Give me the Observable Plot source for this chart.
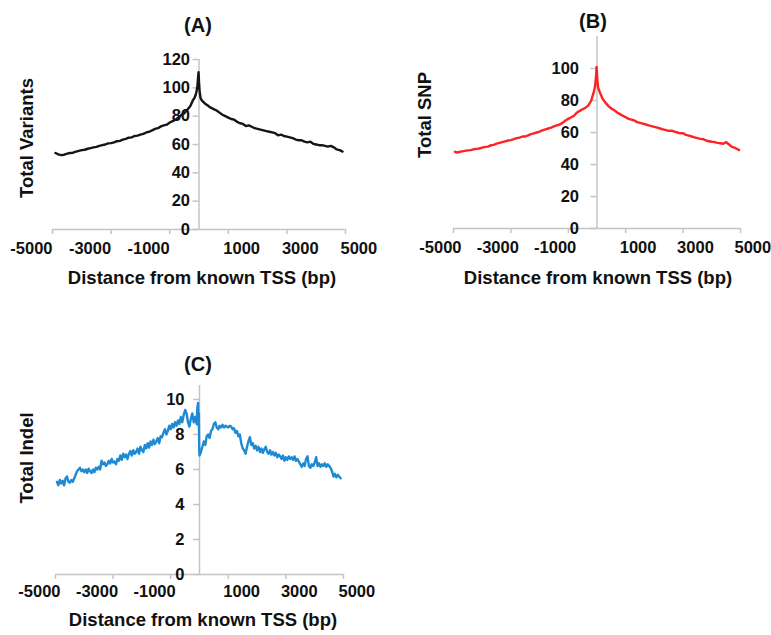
<!DOCTYPE html>
<html>
<head>
<meta charset="utf-8">
<script src="https://cdn.jsdelivr.net/npm/d3@7"></script>
<script src="https://cdn.jsdelivr.net/npm/@observablehq/plot@0.6"></script>
<style>
  html, body { margin: 0; padding: 0; background: #fff; }
  #root { position: relative; width: 771px; height: 635px; overflow: hidden; font-family: "Liberation Sans", Arial, sans-serif; }
  .panel { position: absolute; }
  .lbl { position: absolute; font-weight: bold; color: #111; white-space: nowrap; transform: translate(-50%, -50%); }
  .rot { transform: translate(-50%, -50%) rotate(-90deg); }
</style>
</head>
<body>
<div id="root"></div>
<script>
// ---------- data ----------
const xTicks = [-5000, -3000, -1000, 1000, 3000, 5000];

const posA = [-4900,-4800,-4700,-4600,-4500,-4400,-4300,-4200,-4100,-4000,-3900,-3800,-3700,-3600,-3500,-3400,-3300,-3200,-3100,-3000,-2900,-2800,-2700,-2600,-2500,-2400,-2300,-2200,-2100,-2000,-1900,-1800,-1700,-1600,-1500,-1400,-1300,-1200,-1100,-1000,-900,-800,-700,-600,-500,-400,-300,-200,-150,-100,-60,-40,-30,-15,0,20,50,100,200,300,400,500,600,700,800,900,1000,1100,1200,1300,1400,1500,1600,1700,1800,1900,2000,2100,2200,2300,2400,2500,2600,2700,2800,2900,3000,3100,3200,3300,3400,3500,3600,3700,3800,3900,4000,4100,4200,4300,4400,4500,4600,4700,4800,4900];
const variantsA = [54,53,52.5,52.8,53.5,54,54.2,55,55.5,56,56.3,57,57.5,58,58.3,59,59.5,60,60.8,61,61.5,62.3,62.6,63.5,64,64.8,65,66,66.3,67,67.5,68.5,69,70,71,71.5,72.8,73.5,74,75.5,76.5,77.5,79,81,82,84.5,87,91.5,93,96,100,105,108,111,104,98,93,91,89,87.5,86,85,84,82.5,81,80,79,78,77.5,76,75,74.5,73,73.5,72.5,71.5,71,70.5,70,69.5,69,68.5,68,66.5,67,66,65.5,65,64.5,63.5,63,63,62,61.5,62,60.5,60,59.5,59.5,59,58.5,59,58,56.5,56,55];
const yTicksA = [0, 20, 40, 60, 80, 100, 120];

const posB = [-4950,-4900,-4800,-4700,-4600,-4500,-4400,-4300,-4200,-4100,-4000,-3900,-3800,-3700,-3600,-3500,-3400,-3300,-3200,-3100,-3000,-2900,-2800,-2700,-2600,-2500,-2400,-2300,-2200,-2100,-2000,-1900,-1800,-1700,-1600,-1500,-1400,-1300,-1200,-1100,-1000,-900,-800,-700,-600,-500,-400,-300,-200,-150,-100,-60,-30,-15,0,15,40,100,200,300,400,500,600,700,800,900,1000,1100,1200,1300,1400,1500,1600,1700,1800,1900,2000,2100,2200,2300,2400,2500,2600,2700,2800,2900,3000,3100,3200,3300,3400,3500,3600,3700,3800,3900,4000,4100,4200,4300,4400,4500,4600,4700,4800,4900,4950];
const snpB = [48,47.5,47.8,48.2,48.5,48.8,49,49.5,49.8,50,50.5,51,51.2,52,52.3,53,53.5,54,54.5,55,55.2,55.8,56.5,56.8,57.5,57.5,58.2,59,59.5,60,60.5,61.3,62,62.5,63,63.8,64.5,65,66,67.5,68.5,69.5,70.5,72.5,73.5,74.5,75.5,77,80,83,86,90,96,101,97,92,88,85,81,78.5,76.5,75,74,72.5,71.5,70.5,69.5,68.5,68,67.5,66.5,66,65.5,65,64.5,64,63.5,63,62.5,62,61.5,61,61.2,60.5,60,59.5,59.5,58.5,58,57.5,57,56.5,56,55.8,55,54.5,54.2,54,53.5,53.3,53,54,52.5,51,50.5,49.5,49];
const yTicksB = [0, 20, 40, 60, 80, 100];

const posC = [-4950,-4900,-4850,-4800,-4750,-4700,-4650,-4600,-4550,-4500,-4450,-4400,-4350,-4300,-4250,-4200,-4150,-4100,-4050,-4000,-3950,-3900,-3850,-3800,-3750,-3700,-3650,-3600,-3550,-3500,-3450,-3400,-3350,-3300,-3250,-3200,-3150,-3100,-3050,-3000,-2950,-2900,-2850,-2800,-2750,-2700,-2650,-2600,-2550,-2500,-2450,-2400,-2350,-2300,-2250,-2200,-2150,-2100,-2050,-2000,-1950,-1900,-1850,-1800,-1750,-1700,-1650,-1600,-1550,-1500,-1450,-1400,-1350,-1300,-1250,-1200,-1150,-1100,-1050,-1000,-950,-900,-850,-800,-750,-700,-650,-600,-550,-500,-450,-400,-350,-300,-250,-200,-150,-100,-75,-50,-35,-20,-10,0,50,100,150,200,250,300,350,400,450,500,550,600,650,700,750,800,850,900,950,1000,1050,1100,1150,1200,1250,1300,1350,1400,1450,1500,1550,1600,1650,1700,1750,1800,1850,1900,1950,2000,2050,2100,2150,2200,2250,2300,2350,2400,2450,2500,2550,2600,2650,2700,2750,2800,2850,2900,2950,3000,3050,3100,3150,3200,3250,3300,3350,3400,3450,3500,3550,3600,3650,3700,3750,3800,3850,3900,3950,4000,4050,4100,4150,4200,4250,4300,4350,4400,4450,4500,4550,4600,4650,4700,4750,4800,4850,4900];
const indelC = [5.3,5.1,5.4,5.2,5.35,5.1,5.5,5.6,5.3,5.25,5.4,5.3,5.5,5.7,5.9,6.0,6.1,5.9,6.0,5.85,6.0,5.8,6.05,5.9,5.8,6.0,5.85,6.1,6.0,6.15,6.0,6.5,6.3,6.4,6.2,6.3,6.5,6.35,6.6,6.4,6.45,6.3,6.6,6.5,6.8,6.55,6.9,6.7,6.85,6.6,6.9,7.05,6.8,7.1,6.9,7.0,7.2,6.9,7.3,7.1,7.0,7.4,7.2,7.5,7.25,7.6,7.4,7.7,7.45,7.6,7.8,7.5,7.9,7.85,8.1,8.3,8.0,8.2,8.5,8.3,8.6,8.4,8.7,8.5,8.8,8.6,9.0,8.7,9.1,9.4,9.2,8.7,8.45,8.9,9.2,8.7,9.0,8.6,9.5,9.8,8.5,9.2,7.2,6.8,7.0,7.3,7.6,7.4,7.9,8.0,7.8,8.2,8.3,8.6,8.7,8.4,8.3,8.5,8.4,8.55,8.4,8.5,8.45,8.4,8.5,8.45,8.3,8.35,8.1,8.2,7.9,8.0,7.5,7.2,7.1,6.9,7.3,7.6,7.85,7.4,7.5,7.2,7.35,7.1,7.3,7.0,7.2,6.95,7.15,7.3,7.0,6.9,7.1,6.85,7.0,6.8,6.95,6.7,6.85,6.75,6.6,6.8,6.5,6.7,6.55,6.75,6.6,6.7,6.55,6.75,6.5,6.6,6.45,6.3,6.15,6.35,6.2,6.6,6.75,6.2,6.1,6.3,6.2,6.4,6.7,6.2,6.35,6.15,6.3,6.2,6.35,6.15,6.3,6.2,6.1,5.9,5.6,5.75,5.55,5.7,5.6,5.5];
const yTicksC = [0, 2, 4, 6, 8, 10];

// ---------- drawing ----------
const FONT = "Liberation Sans, Arial, sans-serif";
const AXIS = "#c4c4c4";
const root = document.getElementById("root");

function label(text, x, y, size, rot) {
  const d = document.createElement("div");
  d.className = "lbl" + (rot ? " rot" : "");
  d.textContent = text;
  d.style.left = x + "px";
  d.style.top = y + "px";
  d.style.fontSize = size + "px";
  root.appendChild(d);
}

function panel(o) {
  const idx = d3.range(o.xs.length);
  const neg = xTicks.filter(t => t < 0), pos = xTicks.filter(t => t > 0);
  const txt = {fontFamily: FONT, fontWeight: "bold", fontSize: 16.5, fill: "#111"};
  const chart = Plot.plot({
    width: o.width, height: o.height,
    marginLeft: o.ml, marginRight: o.mr, marginTop: o.mt, marginBottom: o.mb,
    style: {background: "transparent", overflow: "visible"},
    x: {domain: [-5000, 5000], axis: null},
    y: {domain: [0, o.yMax], axis: null},
    marks: [
      Plot.ruleY([0], {x1: -5000, x2: 5000, stroke: AXIS, strokeWidth: 1.5}),
      Plot.ruleX(xTicks, {x: d => d, y1: 0, y2: 0, insetBottom: -5, stroke: AXIS, strokeWidth: 1.5}),
      Plot.ruleX([0], {y1: 0, y2: o.yMax, stroke: AXIS, strokeWidth: 1.5}),
      Plot.ruleY(o.yTicks, {y: d => d, x1: 0, x2: 0, insetLeft: -6, stroke: AXIS, strokeWidth: 1.5}),
      Plot.text(o.yTicks, {x: 0, y: d => d, text: d => String(d), textAnchor: "end", dx: -o.ylDx, ...txt}),
      Plot.text(neg, {x: d => d, y: 0, text: d => String(d), textAnchor: "end", dx: o.negDx, dy: o.xlDy, ...txt}),
      Plot.text(pos, {x: d => d, y: 0, text: d => String(d), textAnchor: "start", dx: o.posDx, dy: o.xlDy, ...txt}),
      Plot.line(idx, {x: i => o.xs[i], y: i => o.ys[i], stroke: o.color, strokeWidth: 2.4, strokeLinejoin: "round"})
    ]
  });
  chart.classList.add("panel");
  chart.style.left = o.left + "px";
  chart.style.top = o.top + "px";
  root.appendChild(chart);
}

panel({xs: posA, ys: variantsA, color: "#151515", yMax: 120, yTicks: yTicksA,
  left: 0, top: 0, width: 385, height: 300, ml: 52, mr: 40, mt: 59, mb: 71,
  ylDx: 9, negDx: 0, posDx: -5, xlDy: 19});
panel({xs: posB, ys: snpB, color: "#ff2222", yMax: 120, yTicks: yTicksB,
  left: 385, top: 0, width: 386, height: 300, ml: 68, mr: 31, mt: 36, mb: 72,
  ylDx: 18, negDx: 8, posDx: -6, xlDy: 19});
panel({xs: posC, ys: indelC, color: "#1f8ad4", yMax: 10.8, yTicks: yTicksC,
  left: 0, top: 330, width: 385, height: 305, ml: 55, mr: 42, mt: 55, mb: 61,
  ylDx: 15, negDx: 5, posDx: -5, xlDy: 17});

label("(A)", 198, 25, 20);
label("Total Variants", 27, 138, 18.5, true);
label("Distance from known TSS (bp)", 202, 278, 18.5);
label("(B)", 593, 21, 20);
label("Total SNP", 425, 115, 18.5, true);
label("Distance from known TSS (bp)", 598, 278, 18.5);
label("(C)", 198, 364, 20);
label("Total Indel", 27, 458, 18.5, true);
label("Distance from known TSS (bp)", 203, 620, 18.5);
</script>
</body>
</html>
